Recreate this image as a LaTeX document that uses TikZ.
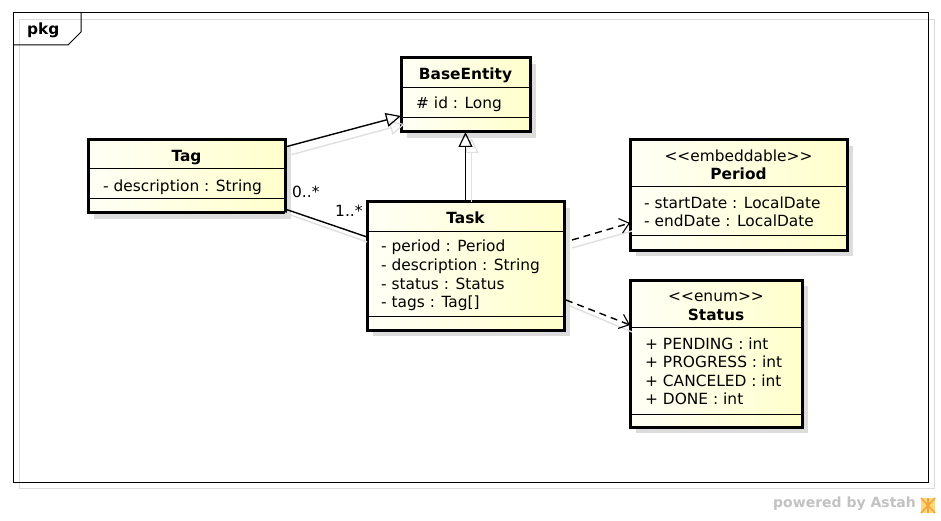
\documentclass[tikz,border=0pt]{standalone}
\usepackage{fontspec}
\setmainfont{DejaVu Sans}
\usetikzlibrary{arrows.meta,calc,shadows}
\definecolor{boxA}{HTML}{FFFFF6}
\definecolor{boxB}{HTML}{FFFFCC}
\definecolor{shad}{HTML}{DCDCDC}
\definecolor{lshad}{HTML}{E0E0E0}
\definecolor{wm}{HTML}{C2C2C2}
\definecolor{logoA}{HTML}{F4A43A}
\definecolor{logoB}{HTML}{FBD879}
\begin{document}
\begin{tikzpicture}[x=1pt,y=-1pt,
  umlbox/.style={draw=black, line width=3pt, inner sep=0pt, outer sep=0pt,
    anchor=north west, left color=boxA, right color=boxB,
    general shadow={fill=shad, shadow xshift=6pt, shadow yshift=-6pt}},
  sepline/.style={draw=black, line width=1pt},
  attr/.style={anchor=base west, inner sep=0pt, font=\fontsize{15.4}{18}\selectfont},
  ctitle/.style={anchor=base, inner sep=0pt, font=\fontsize{15.4}{18}\selectfont\bfseries},
  stereo/.style={anchor=base, inner sep=0pt, font=\fontsize{15.4}{18}\selectfont},
  conn/.style={draw=black, line width=1.4pt},
  connshadow/.style={draw=lshad, line width=1.4pt},
  gen/.style={-{Triangle[open, length=15pt, width=14pt, line width=1.2pt]}, fill=white},
  dep/.style={dash pattern=on 7pt off 5pt, -{Straight Barb[length=9pt, width=15pt, line width=1.1pt]}},
]
\useasboundingbox (0,0) rectangle (941,521);
\fill[white] (0,0) rectangle (941,521);

% frame with shadow outline
\draw[shad, line width=1pt] (19.5,19.5) rectangle (934,488);
\node[draw=black, line width=1pt, inner sep=0pt, outer sep=0pt, anchor=north west,
  minimum width=915pt, minimum height=469pt] (frame) at (13,13) {};
\draw[black, line width=1pt] (frame.north west |- 0,45) -- (68,45) -- (81,32) -- (81,13);
\node[anchor=base west, inner sep=0pt, font=\fontsize{15.4}{18}\selectfont\bfseries] (pkglabel) at (27,35) {pkg};

% boxes
\node[umlbox, minimum width=129pt, minimum height=74pt] (base) at (401,58) {};
\node[umlbox, minimum width=197pt, minimum height=73pt] (tag) at (88,140) {};
\node[umlbox, minimum width=197pt, minimum height=128pt] (task) at (367,202) {};
\node[umlbox, minimum width=217pt, minimum height=110pt] (period) at (630,140) {};
\node[umlbox, minimum width=172pt, minimum height=147pt] (status) at (630,280) {};

% separators
\draw[sepline] (base.west |- 0,88) -- (base.east |- 0,88);
\draw[sepline] (base.west |- 0,118) -- (base.east |- 0,118);
\draw[sepline] (tag.west |- 0,169) -- (tag.east |- 0,169);
\draw[sepline] (tag.west |- 0,199) -- (tag.east |- 0,199);
\draw[sepline] (task.west |- 0,231) -- (task.east |- 0,231);
\draw[sepline] (task.west |- 0,316) -- (task.east |- 0,316);
\draw[sepline] (period.west |- 0,187) -- (period.east |- 0,187);
\draw[sepline] (period.west |- 0,235) -- (period.east |- 0,235);
\draw[sepline] (status.west |- 0,327) -- (status.east |- 0,327);
\draw[sepline] (status.west |- 0,414) -- (status.east |- 0,414);

% texts
\node[ctitle] (baseT) at (465.5,80) {BaseEntity};
\node[attr] (baseA) at (416,108.5) {\# id : Long};

\node[ctitle] (tagT) at (186.5,162) {Tag};
\node[attr] (tagA) at (103,191.5) {- description : String};

\node[ctitle] (taskT) at (465.5,223) {Task};
\node[attr] (taskA1) at (381,251.5) {- period : Period};
\node[attr] (taskA2) at (381,270.3) {- description : String};
\node[attr] (taskA3) at (381,289.1) {- status : Status};
\node[attr] (taskA4) at (381,307.9) {- tags : Tag[]};

\node[stereo] (periodS) at (738.5,161.7) {<{}<embeddable>{}>};
\node[ctitle] (periodT) at (738.5,180) {Period};
\node[attr] (periodA1) at (644,208.3) {- startDate : LocalDate};
\node[attr] (periodA2) at (644,226.8) {- endDate : LocalDate};

\node[stereo] (statusS) at (716,301.7) {<{}<enum>{}>};
\node[ctitle] (statusT) at (716,320) {Status};
\node[attr] (statusA1) at (645,349) {+ PENDING : int};
\node[attr] (statusA2) at (645,367.5) {+ PROGRESS : int};
\node[attr] (statusA3) at (645,386) {+ CANCELED : int};
\node[attr] (statusA4) at (645,404.5) {+ DONE : int};

% connector shadows
\draw[connshadow, gen, draw=lshad] ($(tag.north east)+(5,15)$) -- ($(base.south west)+(4,-8)$);
\draw[connshadow, gen, draw=lshad] ($(task.north)+(6,0)$) -- ($(base.south)+(6,6)$);
\draw[connshadow] ($(tag.south east)+(0,0)$) -- ($(task.north west)+(0,40)$);
\draw[connshadow] ($(task.north east)+(8,46)$) -- ($(period.north west)+(2,91)$);
\draw[connshadow] ($(task.north east)+(6,104)$) -- ($(status.north west)+(2,52)$);

% connectors
\draw[conn, gen] ($(tag.north east)+(0,7)$) -- ($(base.south west)+(0,-16)$);
\draw[conn, gen] (task.north) -- (base.south);
\draw[conn] ($(tag.south east)+(0,-4)$) -- ($(task.north west)+(0,35)$);
\draw[conn, dep] ($(task.north east)+(8,38)$) -- ($(period.north west)+(0,83)$);
\draw[conn, dep] ($(task.north east)+(2,98)$) -- ($(status.north west)+(0,45)$);

% multiplicities
\node[attr] (mult0) at (292,198) {0..*};
\node[attr] (mult1) at (335,217) {1..*};

% watermark
\node[anchor=base west, inner sep=0pt, text=wm, font=\fontsize{14}{16}\selectfont\bfseries] (wmark) at (773,507.5) {powered by Astah};
\node[anchor=north west, inner sep=0pt, outer sep=0pt, minimum width=14pt, minimum height=15pt, fill=logoB] (logo) at (921,498) {};
\draw[logoA, line width=1.6pt] (logo.north west) -- (logo.south east);
\draw[logoA, line width=1.6pt] (logo.south west) -- (logo.north east);
\draw[logoA, line width=1.6pt] (logo.north) -- (logo.south);
\end{tikzpicture}
\end{document}
